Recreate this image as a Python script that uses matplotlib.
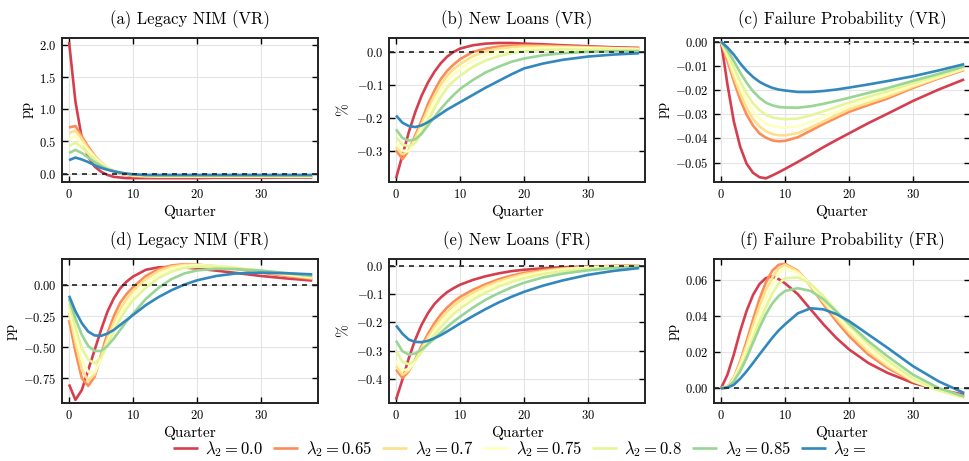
import matplotlib
matplotlib.use("Agg")
import matplotlib.pyplot as plt
from matplotlib.ticker import MultipleLocator
import numpy as np

plt.rcParams.update({
    "font.family": "serif",
    "font.serif": ["cmr10"],
    "mathtext.fontset": "cm",
    "axes.formatter.use_mathtext": True,
    "axes.unicode_minus": True,
})

quarters = [0, 1, 2, 3, 4, 5, 6, 7, 8, 9, 10, 12, 14, 16, 18, 20, 23, 26, 30, 34, 38]
lambdas = ["0.0", "0.65", "0.7", "0.75", "0.8", "0.85", ""]
colors = ["#d53e4f", "#fc8d59", "#fee08b", "#ffffbf", "#e6f598", "#99d594", "#3288bd"]

titles = ["(a) Legacy NIM (VR)", "(b) New Loans (VR)", "(c) Failure Probability (VR)",
          "(d) Legacy NIM (FR)", "(e) New Loans (FR)", "(f) Failure Probability (FR)"]
ylabels = ["pp", "%", "pp", "pp", "%", "pp"]
ytick_steps = [0.5, 0.1, 0.01, 0.25, 0.1, 0.02]

nim_vr = [
    [2.05, 1.12, 0.55, 0.26, 0.11, 0.03, -0.02, -0.05, -0.06, -0.07, -0.07, -0.07, -0.07, -0.07, -0.07, -0.07, -0.065, -0.065, -0.065, -0.06, -0.06],
    [0.72, 0.74, 0.58, 0.42, 0.28, 0.17, 0.09, 0.04, 0.0, -0.02, -0.04, -0.05, -0.05, -0.05, -0.05, -0.05, -0.05, -0.05, -0.05, -0.05, -0.05],
    [0.63, 0.67, 0.54, 0.39, 0.27, 0.17, 0.09, 0.04, 0.01, -0.01, -0.03, -0.04, -0.045, -0.045, -0.045, -0.045, -0.045, -0.045, -0.045, -0.045, -0.045],
    [0.54, 0.58, 0.48, 0.36, 0.25, 0.16, 0.09, 0.04, 0.01, -0.01, -0.025, -0.035, -0.04, -0.04, -0.04, -0.04, -0.04, -0.04, -0.04, -0.04, -0.04],
    [0.43, 0.48, 0.41, 0.31, 0.22, 0.14, 0.08, 0.04, 0.01, -0.005, -0.02, -0.03, -0.035, -0.035, -0.035, -0.035, -0.035, -0.035, -0.035, -0.035, -0.035],
    [0.32, 0.37, 0.32, 0.25, 0.18, 0.12, 0.07, 0.04, 0.015, 0.0, -0.015, -0.025, -0.03, -0.03, -0.03, -0.03, -0.03, -0.03, -0.03, -0.03, -0.03],
    [0.21, 0.25, 0.22, 0.18, 0.13, 0.09, 0.06, 0.035, 0.015, 0.0, -0.01, -0.02, -0.02, -0.02, -0.02, -0.02, -0.02, -0.02, -0.02, -0.02, -0.02],
]

loans_vr = [
    [-0.382, -0.312, -0.242, -0.182, -0.132, -0.092, -0.06, -0.034, -0.014, 0.0, 0.01, 0.02, 0.025, 0.027, 0.027, 0.025, 0.023, 0.02, 0.017, 0.014, 0.012],
    [-0.297, -0.324, -0.297, -0.252, -0.207, -0.157, -0.117, -0.082, -0.057, -0.038, -0.022, 0.0, 0.01, 0.016, 0.019, 0.02, 0.019, 0.017, 0.015, 0.012, 0.01],
    [-0.287, -0.31, -0.298, -0.26, -0.218, -0.172, -0.132, -0.098, -0.072, -0.052, -0.037, -0.013, 0.002, 0.01, 0.014, 0.016, 0.016, 0.015, 0.013, 0.011, 0.009],
    [-0.277, -0.298, -0.3, -0.27, -0.23, -0.188, -0.148, -0.114, -0.087, -0.067, -0.052, -0.026, -0.01, 0.0, 0.006, 0.01, 0.012, 0.012, 0.011, 0.01, 0.008],
    [-0.257, -0.28, -0.285, -0.275, -0.245, -0.208, -0.17, -0.136, -0.108, -0.088, -0.072, -0.045, -0.026, -0.013, -0.004, 0.002, 0.006, 0.007, 0.007, 0.007, 0.006],
    [-0.234, -0.26, -0.268, -0.264, -0.247, -0.222, -0.197, -0.172, -0.15, -0.13, -0.112, -0.085, -0.062, -0.045, -0.03, -0.02, -0.01, -0.004, 0.0, 0.002, 0.002],
    [-0.192, -0.214, -0.224, -0.227, -0.222, -0.212, -0.2, -0.187, -0.174, -0.163, -0.152, -0.13, -0.108, -0.088, -0.068, -0.05, -0.035, -0.024, -0.014, -0.008, -0.004],
]

fail_vr = [
    [0.0, -0.0177, -0.033, -0.0435, -0.0505, -0.0542, -0.056, -0.0565, -0.0553, -0.054, -0.0526, -0.0497, -0.0467, -0.0436, -0.0407, -0.0379, -0.0337, -0.0298, -0.0245, -0.0198, -0.0156],
    [0.0, -0.008, -0.0163, -0.024, -0.0302, -0.0347, -0.0379, -0.0397, -0.0408, -0.0412, -0.041, -0.0395, -0.0368, -0.034, -0.0315, -0.029, -0.0262, -0.0235, -0.0191, -0.0152, -0.0117],
    [0.0, -0.0065, -0.0145, -0.0215, -0.0275, -0.032, -0.035, -0.037, -0.0382, -0.0387, -0.0387, -0.0378, -0.0355, -0.033, -0.0305, -0.028, -0.0253, -0.0227, -0.0186, -0.0149, -0.0114],
    [0.0, -0.0055, -0.0125, -0.019, -0.0245, -0.0288, -0.0318, -0.0338, -0.0349, -0.0354, -0.0355, -0.035, -0.0333, -0.031, -0.029, -0.0268, -0.0242, -0.0217, -0.018, -0.0145, -0.0111],
    [0.0, -0.0045, -0.0105, -0.0165, -0.0215, -0.0255, -0.0283, -0.0302, -0.0313, -0.0318, -0.032, -0.0318, -0.0305, -0.0288, -0.027, -0.0252, -0.0228, -0.0205, -0.0172, -0.014, -0.0107],
    [0.0, -0.0035, -0.008, -0.0128, -0.017, -0.0205, -0.0232, -0.0252, -0.0263, -0.027, -0.0272, -0.0273, -0.0267, -0.0257, -0.0245, -0.0232, -0.0212, -0.0192, -0.0162, -0.0133, -0.0102],
    [0.0, -0.0024, -0.0054, -0.009, -0.0121, -0.0146, -0.0166, -0.018, -0.0191, -0.0198, -0.0202, -0.0208, -0.0208, -0.0204, -0.0198, -0.019, -0.0177, -0.0163, -0.0143, -0.0119, -0.0093],
]

nim_fr = [
    [-0.80, -0.925, -0.845, -0.683, -0.522, -0.36, -0.213, -0.105, -0.024, 0.03, 0.07, 0.125, 0.145, 0.148, 0.143, 0.135, 0.118, 0.1, 0.075, 0.055, 0.038],
    [-0.28, -0.535, -0.75, -0.812, -0.737, -0.562, -0.387, -0.25, -0.14, -0.07, -0.015, 0.075, 0.13, 0.16, 0.17, 0.166, 0.152, 0.133, 0.102, 0.075, 0.052],
    [-0.22, -0.46, -0.68, -0.77, -0.72, -0.58, -0.43, -0.3, -0.19, -0.11, -0.045, 0.05, 0.115, 0.15, 0.165, 0.165, 0.155, 0.14, 0.11, 0.082, 0.058],
    [-0.18, -0.40, -0.60, -0.70, -0.70, -0.60, -0.46, -0.34, -0.23, -0.15, -0.08, 0.02, 0.09, 0.135, 0.155, 0.16, 0.155, 0.143, 0.117, 0.088, 0.064],
    [-0.15, -0.34, -0.51, -0.60, -0.63, -0.58, -0.48, -0.37, -0.27, -0.19, -0.12, -0.02, 0.06, 0.11, 0.14, 0.15, 0.15, 0.14, 0.12, 0.094, 0.07],
    [-0.11, -0.27, -0.40, -0.49, -0.53, -0.53, -0.49, -0.43, -0.36, -0.29, -0.23, -0.11, -0.02, 0.05, 0.095, 0.12, 0.133, 0.13, 0.118, 0.098, 0.076],
    [-0.085, -0.21, -0.306, -0.374, -0.405, -0.408, -0.39, -0.36, -0.32, -0.28, -0.24, -0.16, -0.095, -0.04, 0.005, 0.04, 0.075, 0.095, 0.102, 0.097, 0.088],
]

loans_fr = [
    [-0.473, -0.402, -0.326, -0.261, -0.208, -0.167, -0.135, -0.112, -0.093, -0.079, -0.067, -0.05, -0.037, -0.027, -0.019, -0.014, -0.009, -0.005, -0.003, -0.001, 0.0],
    [-0.367, -0.396, -0.373, -0.33, -0.283, -0.24, -0.203, -0.172, -0.147, -0.127, -0.11, -0.085, -0.065, -0.048, -0.035, -0.025, -0.015, -0.009, -0.004, -0.001, 0.0],
    [-0.355, -0.385, -0.37, -0.335, -0.292, -0.252, -0.217, -0.187, -0.162, -0.141, -0.123, -0.095, -0.073, -0.055, -0.041, -0.03, -0.019, -0.011, -0.005, -0.002, 0.0],
    [-0.335, -0.37, -0.365, -0.337, -0.30, -0.263, -0.23, -0.20, -0.175, -0.154, -0.136, -0.106, -0.082, -0.063, -0.048, -0.036, -0.023, -0.014, -0.007, -0.003, -0.001],
    [-0.30, -0.34, -0.348, -0.333, -0.305, -0.274, -0.244, -0.217, -0.192, -0.17, -0.152, -0.12, -0.095, -0.074, -0.058, -0.044, -0.029, -0.019, -0.01, -0.004, -0.001],
    [-0.265, -0.302, -0.314, -0.31, -0.296, -0.277, -0.257, -0.236, -0.216, -0.197, -0.18, -0.148, -0.12, -0.097, -0.077, -0.06, -0.041, -0.028, -0.016, -0.008, -0.003],
    [-0.211, -0.24, -0.261, -0.269, -0.27, -0.265, -0.256, -0.245, -0.232, -0.218, -0.204, -0.178, -0.153, -0.13, -0.11, -0.092, -0.07, -0.052, -0.032, -0.018, -0.008],
]

fail_fr = [
    [0.0, 0.0076, 0.0188, 0.0318, 0.043, 0.0518, 0.0578, 0.0611, 0.062, 0.0606, 0.0582, 0.0522, 0.0438, 0.0355, 0.028, 0.0216, 0.0141, 0.0086, 0.003, -0.0007, -0.0035],
    [0.0, 0.001, 0.0058, 0.015, 0.0262, 0.0382, 0.0494, 0.0587, 0.0652, 0.0685, 0.069, 0.0652, 0.0568, 0.0466, 0.0373, 0.029, 0.0188, 0.0114, 0.0039, -0.0007, -0.0045],
    [0.0, 0.001, 0.0055, 0.014, 0.024, 0.035, 0.0455, 0.0545, 0.0615, 0.0665, 0.0685, 0.0648, 0.0572, 0.0478, 0.039, 0.031, 0.0205, 0.0125, 0.004, -0.0012, -0.0052],
    [0.0, 0.0009, 0.005, 0.0125, 0.0215, 0.0315, 0.0415, 0.05, 0.0575, 0.0635, 0.0665, 0.064, 0.0575, 0.049, 0.0405, 0.0325, 0.022, 0.0135, 0.0045, -0.0012, -0.0052],
    [0.0, 0.0008, 0.0045, 0.011, 0.019, 0.028, 0.037, 0.045, 0.0525, 0.058, 0.061, 0.0615, 0.058, 0.051, 0.043, 0.035, 0.0245, 0.0155, 0.0055, -0.001, -0.005],
    [0.0, 0.0006, 0.0039, 0.0095, 0.0169, 0.0253, 0.0336, 0.041, 0.047, 0.0512, 0.054, 0.0555, 0.054, 0.0494, 0.0426, 0.0359, 0.0262, 0.0178, 0.0076, 0.0002, -0.0045],
    [0.0, 0.0004, 0.002, 0.0054, 0.0095, 0.0141, 0.0188, 0.0234, 0.028, 0.0321, 0.0355, 0.0416, 0.0444, 0.0438, 0.0412, 0.0373, 0.0299, 0.0225, 0.0123, 0.0039, -0.0026],
]

panels = [nim_vr, loans_vr, fail_vr, nim_fr, loans_fr, fail_fr]
ylims = [(-0.13, 2.11), (-0.393, 0.042), (-0.058, 0.0015), (-0.95, 0.212), (-0.485, 0.024), (-0.0081, 0.0717)]

W, H = 969, 461
fig = plt.figure(figsize=(W / 100, H / 100), dpi=100)
lefts = [62, 389, 714]
tops = [38, 259]
aw, ah = 256, 144

axes = []
for i in range(6):
    r, c = divmod(i, 3)
    ax = fig.add_axes([lefts[c] / W, 1 - (tops[r] + ah) / H, aw / W, ah / H])
    axes.append(ax)
    for j, ser in enumerate(panels[i]):
        lab = r"$\lambda_2 = " + lambdas[j] + "$"
        ax.plot(quarters, ser, color=colors[j], lw=1.9, label=lab, solid_capstyle="butt")
    ax.axhline(0, color="#222222", ls=(0, (3, 3)), lw=1.2, zorder=5)
    ax.set_xlim(-1.1, 38.9)
    ax.set_ylim(*ylims[i])
    ax.set_xticks([0, 10, 20, 30])
    ax.yaxis.set_major_locator(MultipleLocator(ytick_steps[i]))
    ax.grid(True, color="#e4e4e4", lw=0.8)
    ax.set_axisbelow(True)
    ax.tick_params(direction="in", top=True, right=True, length=4, width=1.0, labelsize=9, pad=4)
    for s in ax.spines.values():
        s.set_linewidth(1.4)
        s.set_color("#222222")
    ax.set_title(titles[i], fontsize=12, pad=10)
    ax.set_xlabel("Quarter", fontsize=11, labelpad=3)
    ax.set_ylabel(ylabels[i], fontsize=11, labelpad=4)

handles, labels = axes[0].get_legend_handles_labels()
fig.legend(handles, labels, loc="center", bbox_to_anchor=(520 / W, 1 - 449 / H), ncol=7,
           frameon=False, fontsize=12, handlelength=1.5, handletextpad=0.45, columnspacing=0.6)

fig.savefig("out.png", dpi=100)
